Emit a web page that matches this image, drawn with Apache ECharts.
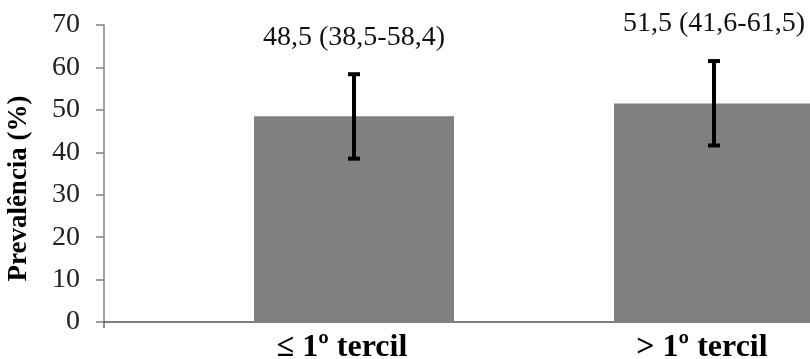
<!DOCTYPE html>
<html>
<head>
<meta charset="utf-8">
<script src="https://cdn.jsdelivr.net/npm/echarts@6/dist/echarts.min.js"></script>
<style>html,body{margin:0;padding:0;background:#fff;}#c{width:810px;height:359px;}</style>
</head>
<body>
<div id="c"></div>
<script>
var categories = ['\u2264 1\u00ba tercil', '> 1\u00ba tercil'];
var prevalence = [48.5, 51.5];
var lowerCI = [38.5, 41.6];
var upperCI = [58.4, 61.5];
var yTicks = [0, 10, 20, 30, 40, 50, 60, 70];

function fmt(v) { return v.toFixed(1).replace('.', ','); }
var labelTexts = prevalence.map(function (v, i) {
  return fmt(v) + ' (' + fmt(lowerCI[i]) + '-' + fmt(upperCI[i]) + ')';
});
var errData = categories.map(function (c, i) { return [i, lowerCI[i], upperCI[i]]; });

var serif = '"Liberation Serif", "Times New Roman", serif';
var chart = echarts.init(document.getElementById('c'));
chart.setOption({
  animation: false,
  backgroundColor: '#fff',
  grid: [
    { left: 174, width: 720, top: 25, bottom: 37, outerBoundsMode: 'none', containLabel: false },
    { left: 104, width: 1000, top: 25, bottom: 37, outerBoundsMode: 'none', containLabel: false }
  ],
  xAxis: [
    {
      type: 'category', gridIndex: 0, data: categories,
      axisLine: { show: false }, axisTick: { show: false },
      axisLabel: { fontFamily: serif, fontSize: 32, fontWeight: 'bold', color: '#000', margin: 10, padding: [0, 24, 0, 0] }
    },
    {
      type: 'value', gridIndex: 1, min: 0, max: 10, interval: 10,
      axisLine: { show: true, lineStyle: { color: '#555', width: 1.5 } },
      axisTick: { show: true, length: 6, lineStyle: { color: '#666', width: 1.5 } },
      axisLabel: { show: false }, splitLine: { show: false }
    }
  ],
  yAxis: [
    {
      type: 'value', gridIndex: 0, min: yTicks[0], max: yTicks[yTicks.length - 1], interval: 10,
      offset: 70,
      name: 'Preval\u00eancia (%)', nameLocation: 'middle', nameGap: 71,
      nameTextStyle: { fontFamily: serif, fontSize: 27, fontWeight: 'bold', color: '#000', padding: [0, 30, 0, 0] },
      axisLine: { show: true, lineStyle: { color: '#808080', width: 1.5 } },
      axisTick: { show: true, length: 8, lineStyle: { color: '#808080', width: 1.5 } },
      axisLabel: { fontFamily: serif, fontSize: 28, color: '#222', margin: 24 },
      splitLine: { show: false }
    },
    { type: 'value', gridIndex: 1, show: false, min: 0, max: 70 }
  ],
  series: [
    {
      type: 'bar', xAxisIndex: 0, yAxisIndex: 0, data: prevalence, barWidth: 200,
      itemStyle: { color: '#808080' }
    },
    {
      type: 'custom', xAxisIndex: 0, yAxisIndex: 0, data: errData, z: 5,
      renderItem: function (params, api) {
        var x = api.value(0);
        var lo = api.coord([x, api.value(1)]);
        var hi = api.coord([x, api.value(2)]);
        var w = 6;
        var st = { stroke: '#000', lineWidth: 4 };
        return {
          type: 'group',
          children: [
            { type: 'line', shape: { x1: lo[0], y1: lo[1], x2: hi[0], y2: hi[1] }, style: st },
            { type: 'line', shape: { x1: lo[0] - w, y1: lo[1], x2: lo[0] + w, y2: lo[1] }, style: st },
            { type: 'line', shape: { x1: hi[0] - w, y1: hi[1], x2: hi[0] + w, y2: hi[1] }, style: st },
            { type: 'text', style: { x: hi[0], y: hi[1] - 37, text: labelTexts[params.dataIndex], textAlign: 'center', textVerticalAlign: 'middle', font: '28px ' + serif, fill: '#111' } }
          ]
        };
      }
    }
  ]
});
</script>
</body>
</html>
